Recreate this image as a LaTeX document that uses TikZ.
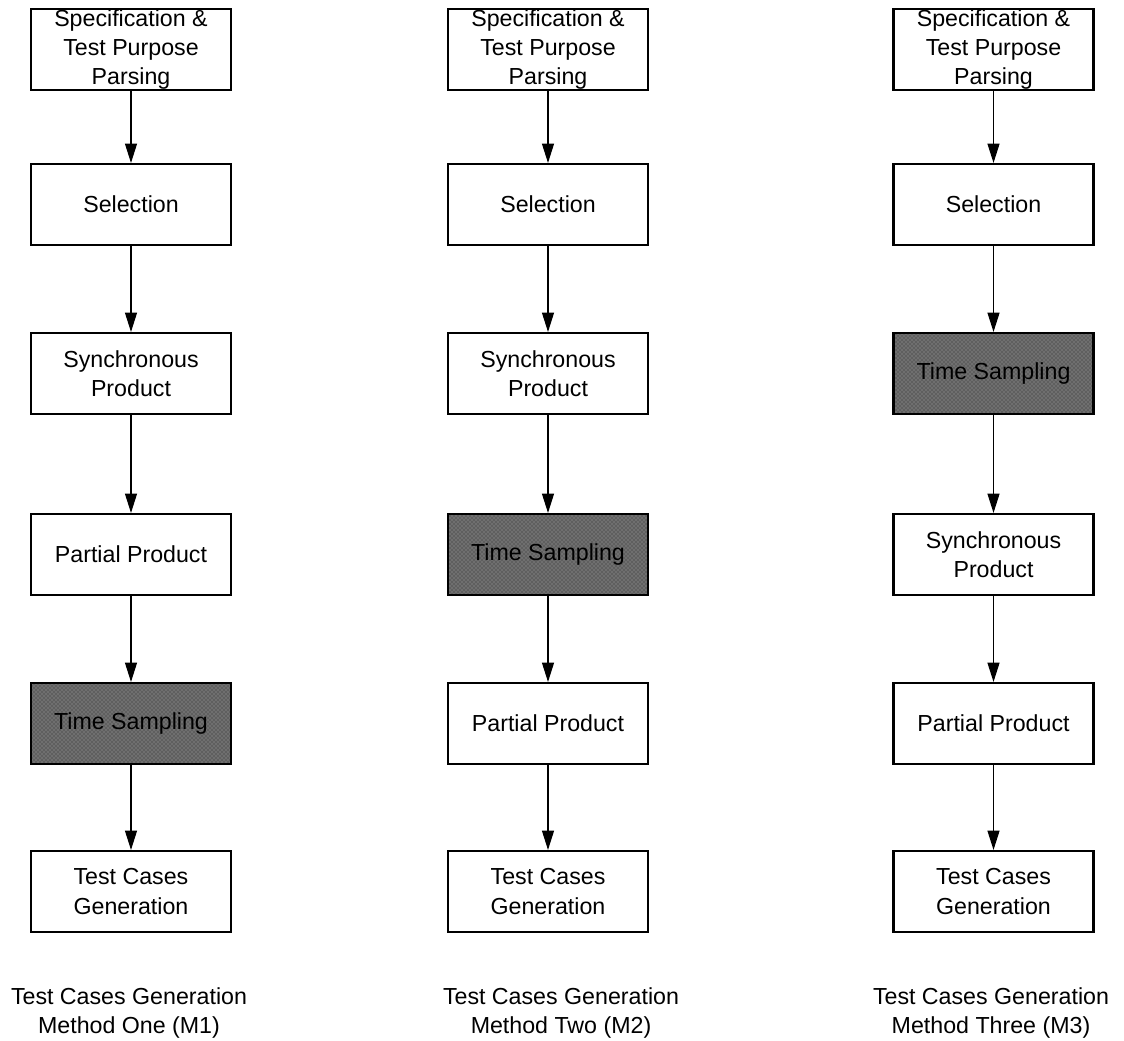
\documentclass[tikz,border=0pt]{standalone}
\usepackage{fontspec}
\setmainfont{Liberation Sans}
\usetikzlibrary{arrows.meta,patterns}
\definecolor{tsgray}{RGB}{95,95,95}
\definecolor{tsdots}{RGB}{165,165,165}
\begin{document}
\begin{tikzpicture}[x=0.75pt,y=-0.75pt,
  every node/.style={font=\fontsize{17.4}{21.8}\selectfont},
  stage/.style={draw=black,line width=1.6pt,fill=white,align=center,
    minimum width=150pt,minimum height=60.75pt,inner sep=0pt},
  sampled/.style={stage,preaction={fill=tsgray},fill=none,
    pattern=crosshatch dots,pattern color=tsdots},
  flow/.style={line width=0.9pt,-{Triangle[length=14.5pt,width=9pt]}},
  caption/.style={align=center,inner sep=0pt}]
\useasboundingbox (0,0) rectangle (1124,1040);
\fill[white] (0,0) rectangle (1124,1040);

% Method One
\node[stage]   (a1) at (131,49.5)  {Specification \&\\Test Purpose\\Parsing};
\node[stage]   (a2) at (131,204.5) {Selection};
\node[stage]   (a3) at (131,373.5) {Synchronous\\Product};
\node[stage]   (a4) at (131,554.5) {Partial Product};
\node[sampled] (a5) at (131,723.5) {Time Sampling};
\node[stage]   (a6) at (131,891.5) {Test Cases\\Generation};

% Method Two
\node[stage]   (b1) at (548,49.5)  {Specification \&\\Test Purpose\\Parsing};
\node[stage]   (b2) at (548,204.5) {Selection};
\node[stage]   (b3) at (548,373.5) {Synchronous\\Product};
\node[sampled] (b4) at (548,554.5) {Time Sampling};
\node[stage]   (b5) at (548,723.5) {Partial Product};
\node[stage]   (b6) at (548,891.5) {Test Cases\\Generation};

% Method Three
\node[stage]   (c1) at (993.5,49.5)  {Specification \&\\Test Purpose\\Parsing};
\node[stage]   (c2) at (993.5,204.5) {Selection};
\node[sampled] (c3) at (993.5,373.5) {Time Sampling};
\node[stage]   (c4) at (993.5,554.5) {Synchronous\\Product};
\node[stage]   (c5) at (993.5,723.5) {Partial Product};
\node[stage]   (c6) at (993.5,891.5) {Test Cases\\Generation};

\foreach \m in {a,b,c}{
  \draw[flow] (\m1) -- (\m2);
  \draw[flow] (\m2) -- (\m3);
  \draw[flow] (\m3) -- (\m4);
  \draw[flow] (\m4) -- (\m5);
  \draw[flow] (\m5) -- (\m6);
}

% Captions
\node[caption] (capa) at (129,1013) {Test Cases Generation\\Method One (M1)};
\node[caption] (capb) at (561,1013) {Test Cases Generation\\Method Two (M2)};
\node[caption] (capc) at (991,1013) {Test Cases Generation\\Method Three (M3)};
\end{tikzpicture}
\end{document}
